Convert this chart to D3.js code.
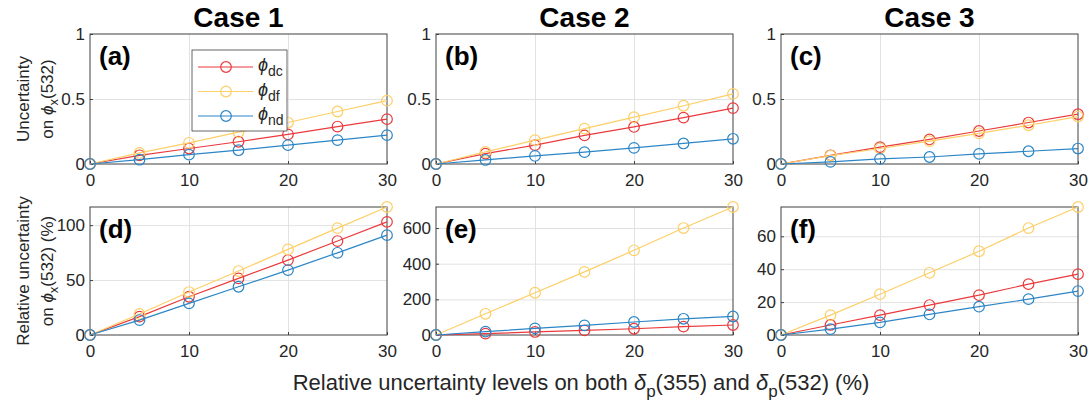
<!doctype html>
<html>
<head>
<script src="https://cdnjs.cloudflare.com/ajax/libs/d3/7.8.5/d3.min.js"></script>
<style>
body { margin: 0; background: #fff; }
svg { font-family: "Liberation Sans", Arial, sans-serif; }
.tick text { font-size: 17px; fill: #262626; }
</style>
</head>
<body>
<svg width="1089" height="405"></svg>
<script>
// x values: relative uncertainty levels (%)
const levels = [0, 5, 10, 15, 20, 25, 30];
const cases = ["Case 1", "Case 2", "Case 3"];
const letters = ["(a)", "(b)", "(c)", "(d)", "(e)", "(f)"];
const seriesNames = ["dc", "df", "nd"];
const seriesColors = ["#ea3a3c", "#fdcf67", "#2c86c6"];

// uncertainty on phi_x(532)
const abs1Dc = [0, 0.067, 0.119, 0.171, 0.228, 0.288, 0.345];
const abs1Df = [0, 0.085, 0.163, 0.245, 0.319, 0.404, 0.487];
const abs1Nd = [0, 0.033, 0.072, 0.106, 0.145, 0.184, 0.222];
const abs2Dc = [0, 0.080, 0.145, 0.220, 0.285, 0.357, 0.430];
const abs2Df = [0, 0.093, 0.184, 0.272, 0.360, 0.448, 0.539];
const abs2Nd = [0, 0.031, 0.062, 0.091, 0.124, 0.158, 0.194];
const abs3Dc = [0, 0.067, 0.130, 0.189, 0.254, 0.319, 0.383];
const abs3Df = [0, 0.065, 0.119, 0.176, 0.236, 0.298, 0.365];
const abs3Nd = [0, 0.016, 0.039, 0.054, 0.078, 0.098, 0.119];

// relative uncertainty on phi_x(532) (%)
const rel1Dc = [0, 16.7, 34.8, 51.5, 68.2, 85.5, 103];
const rel1Df = [0, 19.1, 39.1, 58.2, 77.9, 97.3, 116.5];
const rel1Nd = [0, 13.6, 28.8, 43.9, 59.1, 74.8, 90.9];
const rel2Dc = [0, 7.5, 17, 26, 35, 47, 56];
const rel2Df = [0, 119, 237, 354, 475, 600, 718];
const rel2Nd = [0, 19, 37, 54, 73, 91, 104];
const rel3Dc = [0, 6.1, 12.1, 18.2, 24.2, 30.9, 37];
const rel3Df = [0, 12.1, 24.8, 37.8, 50.9, 65, 77.8];
const rel3Nd = [0, 3.6, 7.7, 12.5, 17.2, 21.8, 26.7];

const topTicks = [0, 0.5, 1];
const relTicks = [[0, 50, 100], [0, 200, 400, 600], [0, 20, 40, 60]];
const xTicks = [0, 10, 20, 30];

const panels = [
  { series: [abs1Dc, abs1Df, abs1Nd], ymax: 1, ticks: topTicks },
  { series: [abs2Dc, abs2Df, abs2Nd], ymax: 1, ticks: topTicks },
  { series: [abs3Dc, abs3Df, abs3Nd], ymax: 1, ticks: topTicks },
  { series: [rel1Dc, rel1Df, rel1Nd], ticks: relTicks[0] },
  { series: [rel2Dc, rel2Df, rel2Nd], ticks: relTicks[1] },
  { series: [rel3Dc, rel3Df, rel3Nd], ticks: relTicks[2] }
];

const svg = d3.select("svg");
const colX = [90, 436, 781], pw = 297;
const rowY = [[34, 164], [207, 335]];

panels.forEach((p, i) => {
  const r = Math.floor(i / 3), c = i % 3;
  const top = rowY[r][0], bot = rowY[r][1], left = colX[c], right = left + pw;
  const ymax = p.ymax || d3.max(p.series, s => d3.max(s));
  const x = d3.scaleLinear().domain([0, 30]).range([left, right]);
  const y = d3.scaleLinear().domain([0, ymax]).range([bot, top]);
  const g = svg.append("g");

  // grid
  g.append("g").attr("transform", `translate(0,${bot})`)
    .call(d3.axisBottom(x).tickValues([10, 20]).tickSize(-(bot - top)).tickFormat(""))
    .call(s => s.select(".domain").remove())
    .selectAll("line").attr("stroke", "#e2e2e2");
  g.append("g").attr("transform", `translate(${left},0)`)
    .call(d3.axisLeft(y).tickValues(p.ticks.filter(t => t > 0 && t < ymax)).tickSize(-pw).tickFormat(""))
    .call(s => s.select(".domain").remove())
    .selectAll("line").attr("stroke", "#e2e2e2");

  // axes
  const xa = g.append("g").attr("transform", `translate(0,${bot})`)
    .call(d3.axisBottom(x).tickValues(xTicks).tickSize(-3).tickPadding(10).tickSizeOuter(0));
  const ya = g.append("g").attr("transform", `translate(${left},0)`)
    .call(d3.axisLeft(y).tickValues(p.ticks).tickSize(-3).tickPadding(5).tickSizeOuter(0)
      .tickFormat(d => d3.format("~g")(d)));
  [xa, ya].forEach(a => {
    a.select(".domain").remove();
    a.selectAll("line").attr("stroke", "#404040");
  });
  g.append("rect").attr("x", left).attr("y", top).attr("width", pw).attr("height", bot - top)
    .attr("fill", "none").attr("stroke", "#404040").attr("stroke-width", 1);

  // series
  const line = d3.line().x((d, k) => x(levels[k])).y(d => y(d));
  p.series.forEach((s, k) => {
    g.append("path").datum(s).attr("d", line)
      .attr("fill", "none").attr("stroke", seriesColors[k]).attr("stroke-width", 1.2);
    g.selectAll(null).data(s).enter().append("circle")
      .attr("cx", (d, j) => x(levels[j])).attr("cy", d => y(d)).attr("r", 5.3)
      .attr("fill", "none").attr("stroke", seriesColors[k]).attr("stroke-width", 1.2);
  });

  // panel letter
  g.append("text").attr("x", left + 9).attr("y", top + 31)
    .attr("font-size", 26).attr("font-weight", "bold").attr("fill", "#000").text(letters[i]);

  if (r === 0) {
    g.append("text").attr("x", (left + right) / 2).attr("y", 27).attr("text-anchor", "middle")
      .attr("font-size", 28).attr("font-weight", "bold").attr("fill", "#000").text(cases[c]);
  }
});

// y labels
const yLabels = [["Uncertainty", ""], ["Relative uncertainty", " (%)"]];
yLabels.forEach((lab, r) => {
  const cy = (rowY[r][0] + rowY[r][1]) / 2;
  const t = svg.append("text").attr("transform", `translate(29,${cy}) rotate(-90)`)
    .attr("text-anchor", "middle").attr("font-size", 17).attr("fill", "#262626");
  t.text(lab[0]);
  const t2 = svg.append("text").attr("transform", `translate(53,${cy}) rotate(-90)`)
    .attr("text-anchor", "middle").attr("font-size", 17).attr("fill", "#262626");
  t2.append("tspan").text("on ");
  t2.append("tspan").attr("font-style", "italic").text("\u03D5");
  t2.append("tspan").attr("font-size", 13).attr("dy", 5).text("x");
  t2.append("tspan").attr("dy", -5).text("(532)" + lab[1]);
});

// x label
const xl = svg.append("text").attr("x", 581).attr("y", 390).attr("text-anchor", "middle")
  .attr("font-size", 22).attr("fill", "#262626");
xl.append("tspan").text("Relative uncertainty levels on both ");
xl.append("tspan").attr("font-style", "italic").text("\u03B4");
xl.append("tspan").attr("font-size", 17).attr("dy", 7).text("p");
xl.append("tspan").attr("dy", -7).text("(355) and ");
xl.append("tspan").attr("font-style", "italic").text("\u03B4");
xl.append("tspan").attr("font-size", 17).attr("dy", 7).text("p");
xl.append("tspan").attr("dy", -7).text("(532) (%)");

// legend in panel (a)
const leg = svg.append("g");
leg.append("rect").attr("x", 192).attr("y", 50).attr("width", 95).attr("height", 81)
  .attr("fill", "#fff").attr("stroke", "#404040").attr("stroke-width", 0.8);
seriesNames.forEach((n, k) => {
  const ly = 67 + k * 24.5;
  leg.append("line").attr("x1", 198).attr("x2", 253).attr("y1", ly).attr("y2", ly)
    .attr("stroke", seriesColors[k]).attr("stroke-width", 1.2);
  leg.append("circle").attr("cx", 226).attr("cy", ly).attr("r", 5.3)
    .attr("fill", "none").attr("stroke", seriesColors[k]).attr("stroke-width", 1.2);
  const t = leg.append("text").attr("x", 258).attr("y", ly + 4).attr("font-size", 18).attr("fill", "#262626");
  t.append("tspan").attr("font-style", "italic").text("\u03D5");
  t.append("tspan").attr("font-size", 14).attr("dy", 5).text(n);
});
</script>
</body>
</html>
